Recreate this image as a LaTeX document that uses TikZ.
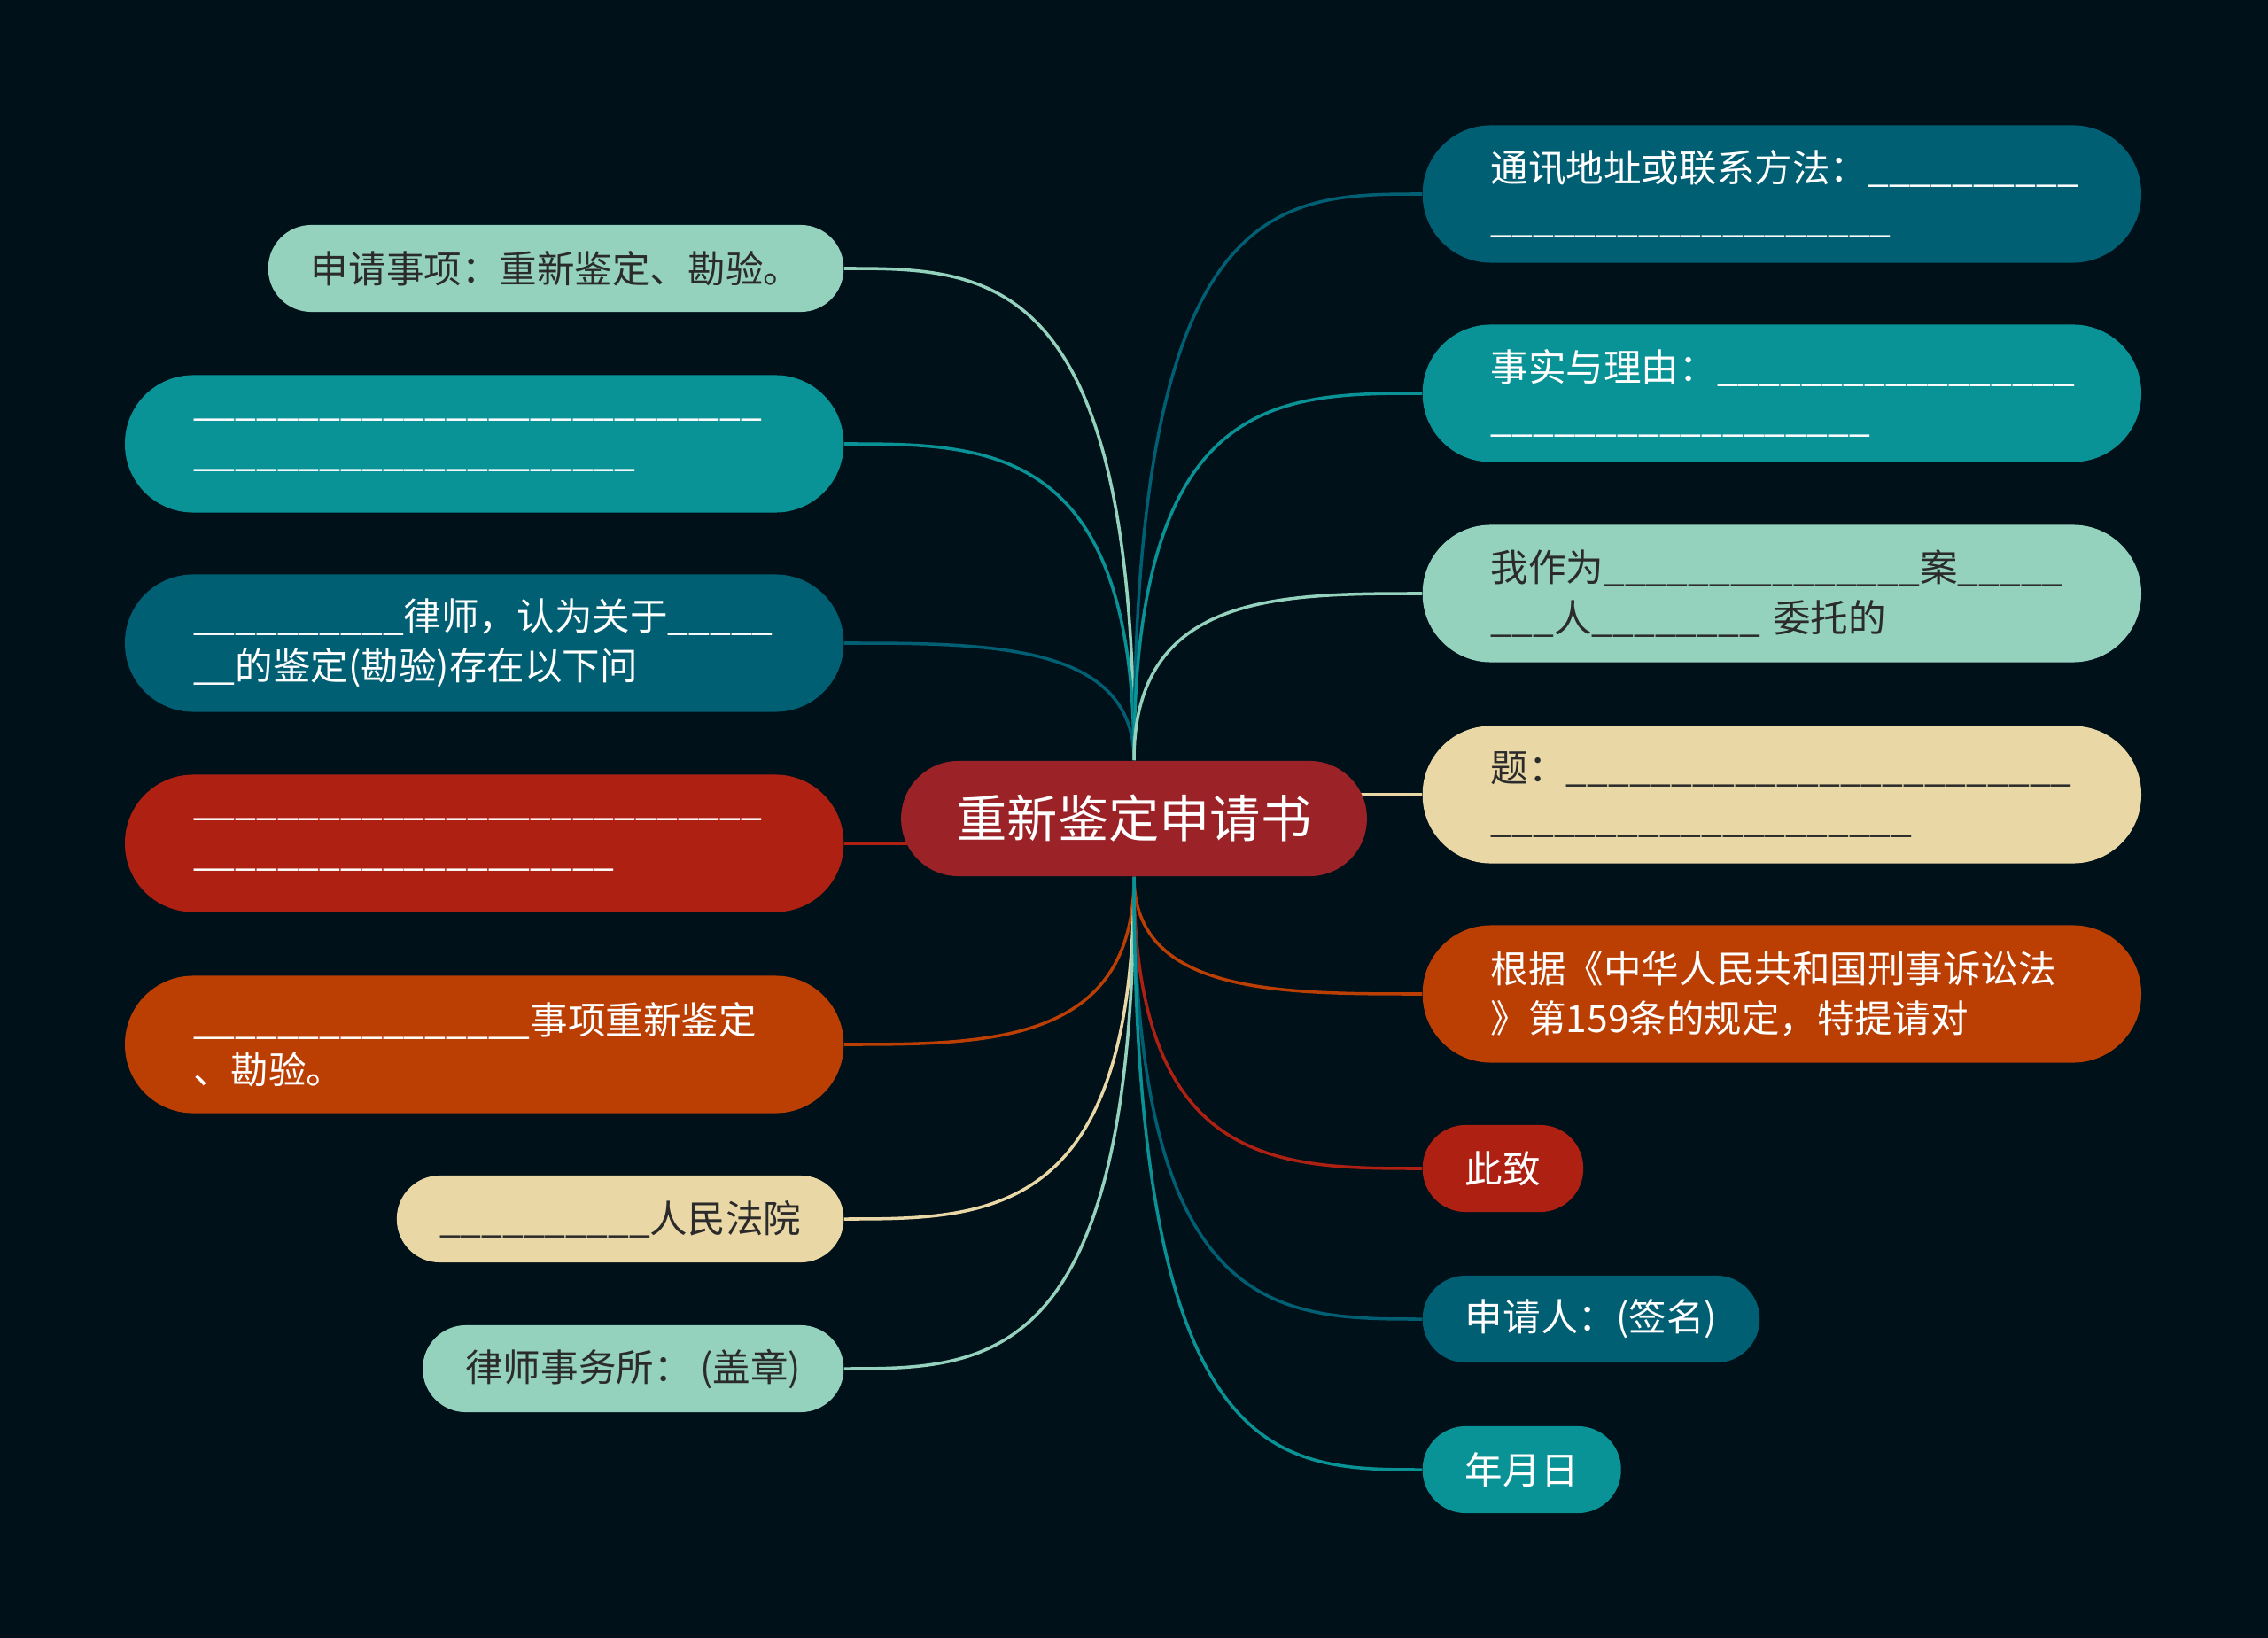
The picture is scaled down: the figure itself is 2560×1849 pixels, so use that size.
\documentclass[tikz,border=0pt]{standalone}
\usepackage{fontspec}
\setmainfont{Noto Sans CJK SC}
\usetikzlibrary{calc}

\definecolor{bgnavy}{HTML}{00111A}
\definecolor{deep}{HTML}{005F73}
\definecolor{teal}{HTML}{0A9396}
\definecolor{mint}{HTML}{94D2BD}
\definecolor{sand}{HTML}{E9D8A6}
\definecolor{rust}{HTML}{BB3E03}
\definecolor{brick}{HTML}{AE2012}
\definecolor{wine}{HTML}{9B2226}
\definecolor{ink}{HTML}{2B2B2B}

\pgfdeclarelayer{back}
\pgfsetlayers{back,main}

% a run of underscores
\newcommand\blank[1]{\foreach\k in {1,...,#1}{\_}}

\begin{document}
\begin{tikzpicture}[x=0.01cm,y=-0.01cm,
    root/.style={rounded corners=18.4pt, minimum height=37pt, inner xsep=17.7pt,
      inner ysep=0pt, fill=wine, text=white, font=\fontsize{16.3pt}{20pt}\selectfont},
    pill/.style={rounded corners=13.8pt, minimum height=27.9pt, inner xsep=13.7pt,
      inner ysep=0pt, font=\fontsize{12.1pt}{16pt}\selectfont},
    wide/.style={rounded corners=21.9pt, minimum height=44.1pt, inner xsep=21.9pt,
      inner ysep=0pt, text width=186.9pt, align=left,
      font=\fontsize{12.1pt}{16pt}\selectfont},
    branch/.style={line width=1pt}]
  \useasboundingbox (0,0) rectangle (2560,1849);
  \begin{pgfonlayer}{back}
    \fill[bgnavy] (0,0) rectangle (2560,1849);
  \end{pgfonlayer}

  \node[root] (c) at (1280,924) {重新鉴定申请书};

  % left side
  \node[pill, fill=mint, text=ink, anchor=east] (l1) at (953,303) {申请事项：重新鉴定、勘验。};
  \node[wide, fill=teal, text=white, anchor=east] (l2) at (953,501) {\blank{27}\\\blank{21}};
  \node[wide, fill=deep, text=white, anchor=east] (l3) at (953,726)
    {\blank{10}律师，认为关于\blank{5}\\\blank{2}的鉴定(勘验)存在以下问};
  \node[wide, fill=brick, text=white, anchor=east] (l4) at (953,952) {\blank{27}\\\blank{20}};
  \node[wide, fill=rust, text=white, anchor=east] (l5) at (953,1179) {\blank{16}事项重新鉴定\\、勘验。};
  \node[pill, fill=sand, text=ink, anchor=east] (l6) at (953,1376) {\blank{10}人民法院};
  \node[pill, fill=mint, text=ink, anchor=east] (l7) at (953,1545) {律师事务所： (盖章)};

  % right side
  \node[wide, fill=deep, text=white, anchor=west] (r1) at (1605,219) {通讯地址或联系方法：\blank{10}\\\blank{19}};
  \node[wide, fill=teal, text=white, anchor=west] (r2) at (1605,444) {事实与理由：\blank{17}\\\blank{18}};
  \node[wide, fill=mint, text=ink, anchor=west] (r3) at (1605,670)
    {我作为\blank{15}案\blank{5}\\\blank{3}人\blank{8} 委托的};
  \node[wide, fill=sand, text=ink, anchor=west] (r4) at (1605,897) {题：\blank{24}\\\blank{20}};
  \node[wide, fill=rust, text=white, anchor=west] (r5) at (1605,1122)
    {根据《中华人民共和国刑事诉讼法\\》第159条的规定，特提请对};
  \node[pill, fill=brick, text=white, anchor=west] (r6) at (1605,1319) {此致};
  \node[pill, fill=deep, text=white, anchor=west] (r7) at (1605,1489) {申请人：(签名)};
  \node[pill, fill=teal, text=white, anchor=west] (r8) at (1605,1659) {年月日};

  \begin{pgfonlayer}{back}
    \foreach \n/\col in {l1/mint,l2/teal,l3/deep}
      \draw[branch,\col] (c.north) .. controls (c.north |- \n.east)
        and ($(c.north |- \n.east)!0.5!(\n.east)$) .. (\n.east);
    \foreach \n/\col in {l5/rust,l6/sand,l7/mint}
      \draw[branch,\col] (c.south) .. controls (c.south |- \n.east)
        and ($(c.south |- \n.east)!0.5!(\n.east)$) .. (\n.east);
    \foreach \n/\col in {r1/deep,r2/teal,r3/mint}
      \draw[branch,\col] (c.north) .. controls (c.north |- \n.west)
        and ($(c.north |- \n.west)!0.5!(\n.west)$) .. (\n.west);
    \foreach \n/\col in {r5/rust,r6/brick,r7/deep,r8/teal}
      \draw[branch,\col] (c.south) .. controls (c.south |- \n.west)
        and ($(c.south |- \n.west)!0.5!(\n.west)$) .. (\n.west);
    \draw[branch,brick] (c.center |- l4.east) -- (l4.east);
    \draw[branch,sand] (c.center |- r4.west) -- (r4.west);
  \end{pgfonlayer}
\end{tikzpicture}
\end{document}
